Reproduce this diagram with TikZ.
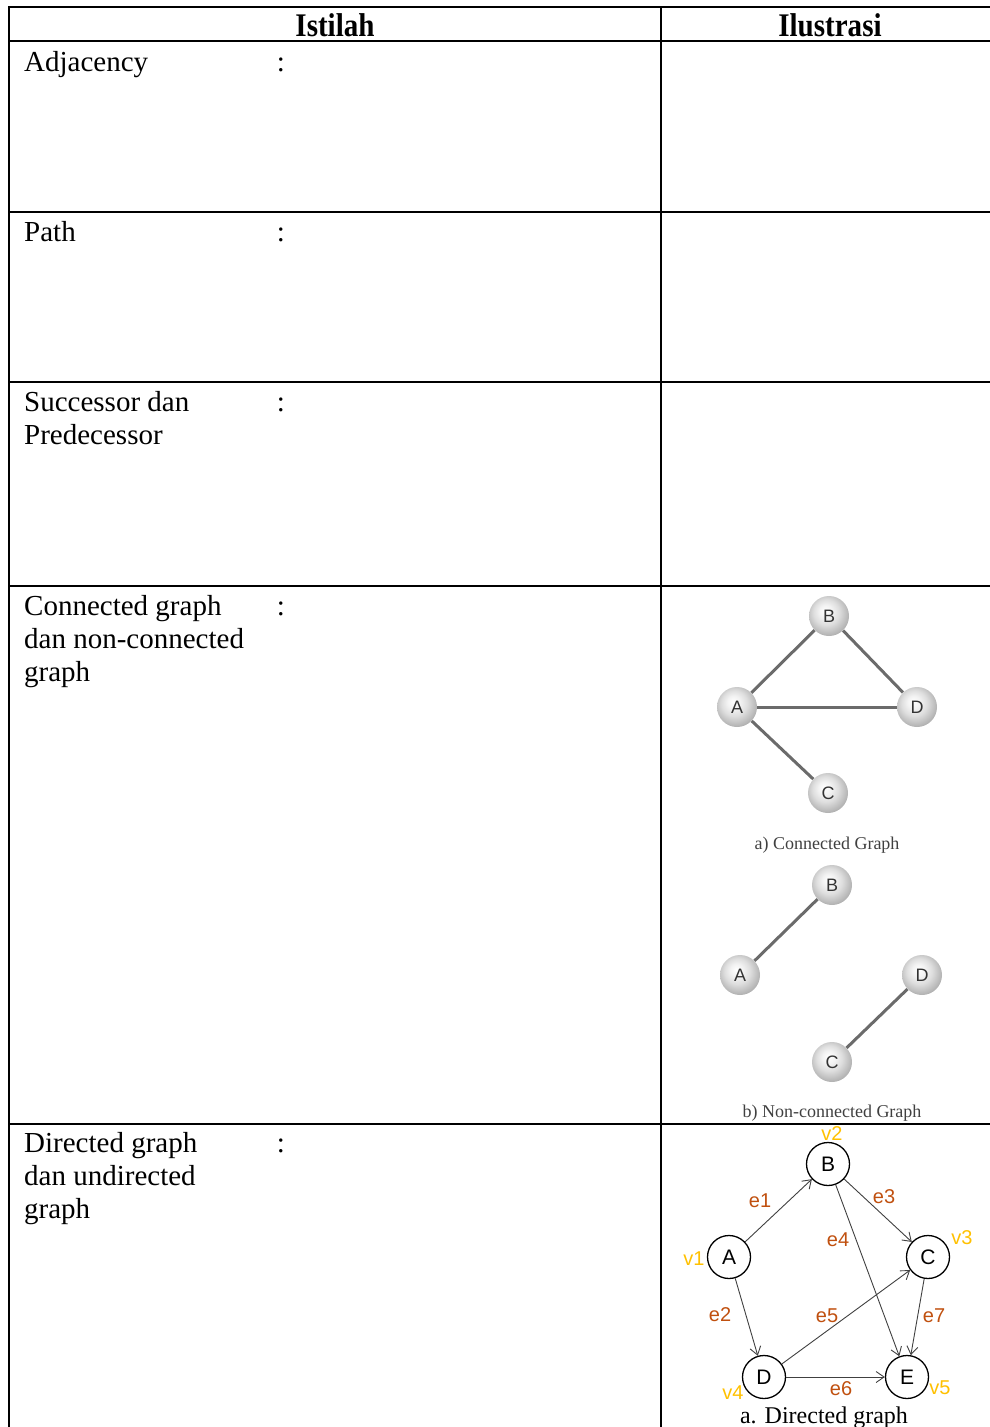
\documentclass[tikz,border=0pt]{standalone}
\usepackage{fontspec}
\usepackage{graphicx}
\setmainfont{Liberation Serif}
\newfontfamily\labelsans{Liberation Sans}
\usetikzlibrary{arrows.meta,backgrounds}

\definecolor{ebrown}{HTML}{C0500F}
\definecolor{vgold}{HTML}{FFC000}

% soft grey sphere used for the vertices of the undirected graphs
\pgfdeclareradialshading{pearl}{\pgfpoint{-5bp}{7bp}}{%
  color(0bp)=(white); color(8bp)=(black!5); color(16bp)=(black!13);
  color(24bp)=(black!25); color(32bp)=(black!37); color(50bp)=(black!42)}

\begin{document}
\begin{tikzpicture}[x=1pt,y=-1pt,
  rule/.style={line width=2pt,black},
  thinrule/.style={line width=1.2pt,black},
  headtxt/.style={anchor=base,inner sep=0,font=\fontsize{33}{33}\selectfont\bfseries},
  term/.style={anchor=base west,inner sep=0,font=\fontsize{29}{33}\selectfont},
  colon/.style={anchor=base,inner sep=0,font=\fontsize{29}{33}\selectfont},
  pearlnode/.style={circle,minimum size=40pt,inner sep=0,shade,shading=pearl,
    font=\labelsans\fontsize{18}{18}\selectfont,text=black!80},
  uedge/.style={line width=3pt,draw=black!58},
  figcap/.style={anchor=base,inner sep=0,font=\fontsize{18}{18}\selectfont,text=black!75},
  vtx/.style={circle,draw,line width=1.3pt,minimum size=43pt,inner sep=0,fill=white,
    font=\labelsans\fontsize{21}{21}\selectfont},
  arc/.style={-{Straight Barb[length=8pt,width=11pt]},line width=0.9pt,draw=black!75},
  elab/.style={inner sep=0,font=\labelsans\fontsize{20}{20}\selectfont,text=ebrown},
  vlab/.style={inner sep=0,font=\labelsans\fontsize{20}{20}\selectfont,text=vgold}
]
\useasboundingbox (0,0) rectangle (990,1427);

% ---------- table grid ----------
\draw[rule] (9,7) -- (990,7);
\draw[rule] (9,41) -- (990,41);
\draw[rule] (9,212) -- (990,212);
\draw[rule] (9,382) -- (990,382);
\draw[rule] (9,586) -- (710,586);
\draw[thinrule] (710,586) -- (950,586);
\draw[rule] (950,586) -- (990,586);
\draw[rule] (9,1124) -- (680,1124);
\draw[thinrule] (680,1124) -- (980,1124);
\draw[rule] (980,1124) -- (990,1124);
\draw[rule] (9,6) -- (9,1427);
\draw[rule] (661,6) -- (661,1427);

% ---------- header ----------
\node[headtxt] (hIstilah) at (335,36) {\scalebox{0.88}[1]{Istilah}};
\node[headtxt] (hIlustrasi) at (830,36) {\scalebox{0.88}[1]{Ilustrasi}};

% ---------- terms ----------
\node[term] (tAdj) at (24,71) {Adjacency};
\node[colon] (cAdj) at (281,71) {:};
\node[term] (tPath) at (24,241) {Path};
\node[colon] (cPath) at (281,241) {:};
\node[term] (tSuc1) at (24,411) {Successor dan};
\node[term] (tSuc2) at (24,444) {Predecessor};
\node[colon] (cSuc) at (281,411) {:};
\node[term] (tCon1) at (24,615) {Connected graph};
\node[term] (tCon2) at (24,648) {dan non-connected};
\node[term] (tCon3) at (24,681) {graph};
\node[colon] (cCon) at (281,615) {:};
\node[term] (tDir1) at (24,1152) {Directed graph};
\node[term] (tDir2) at (24,1185) {dan undirected};
\node[term] (tDir3) at (24,1218) {graph};
\node[colon] (cDir) at (281,1152) {:};

% ---------- a) connected graph ----------
\node[pearlnode] (cB) at (829,616) {B};
\node[pearlnode] (cA) at (737,707) {A};
\node[pearlnode] (cD) at (917,707) {D};
\node[pearlnode] (cC) at (828,793) {C};
\begin{scope}[on background layer]
  \draw[uedge] (cA) -- (cB);
  \draw[uedge] (cB) -- (cD);
  \draw[uedge] (cA) -- (cD);
  \draw[uedge] (cA) -- (cC);
\end{scope}
\node[figcap] (capA) at (827,849) {a) Connected Graph};

% ---------- b) non-connected graph ----------
\node[pearlnode] (nB) at (832,885) {B};
\node[pearlnode] (nA) at (740,975) {A};
\node[pearlnode] (nD) at (922,975) {D};
\node[pearlnode] (nC) at (832,1062) {C};
\begin{scope}[on background layer]
  \draw[uedge] (nA) -- (nB);
  \draw[uedge] (nC) -- (nD);
\end{scope}
\node[figcap] (capB) at (832,1117) {b) Non-connected Graph};

% ---------- a. directed graph ----------
\node[vtx] (dB) at (828,1164) {B};
\node[vtx] (dA) at (729,1257) {A};
\node[vtx] (dC) at (928,1257) {C};
\node[vtx] (dD) at (764,1377) {D};
\node[vtx] (dE) at (907,1377) {E};
\draw[arc] (dA) -- (dB);
\draw[arc] (dA) -- (dD);
\draw[arc] (dB) -- (dC);
\draw[arc] (dB) -- (dE);
\draw[arc] (dD) -- (dC);
\draw[arc] (dD) -- (dE);
\draw[arc] (dC) -- (dE);
\node[elab] (le1) at (760,1201) {e1};
\node[elab] (le2) at (720,1315) {e2};
\node[elab] (le3) at (884,1197) {e3};
\node[elab] (le4) at (838,1240) {e4};
\node[elab] (le5) at (827,1316) {e5};
\node[elab] (le6) at (841,1389) {e6};
\node[elab] (le7) at (934,1316) {e7};
\node[vlab] (lv1) at (694,1259) {v1};
\node[vlab] (lv2) at (832,1134) {v2};
\node[vlab] (lv3) at (962,1238) {v3};
\node[vlab] (lv4) at (733,1393) {v4};
\node[vlab] (lv5) at (940,1388) {v5};
\node[anchor=base,inner sep=0,font=\fontsize{24}{24}\selectfont] (capD) at (824,1423) {a. Directed graph};
\end{tikzpicture}
\end{document}
